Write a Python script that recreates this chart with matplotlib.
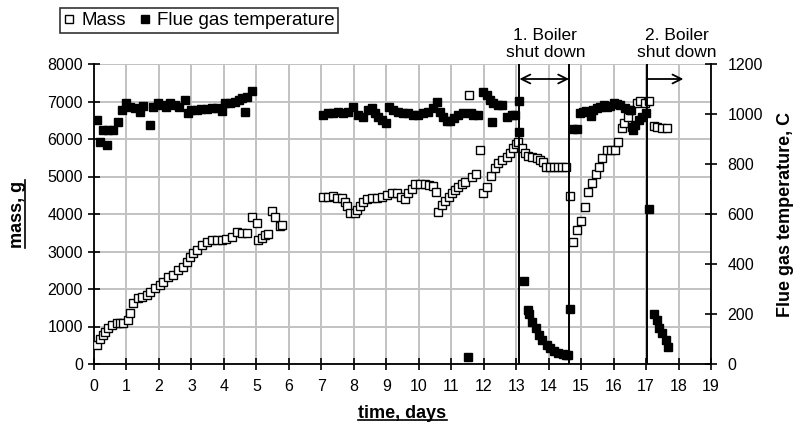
import matplotlib
matplotlib.use("Agg")
import matplotlib.pyplot as plt
from matplotlib.lines import Line2D
from matplotlib.transforms import blended_transform_factory

plt.rcParams['font.family'] = ['Liberation Sans', 'DejaVu Sans']

# Sample mass (g) versus time (days)
mass_day = [0.08, 0.2, 0.27, 0.34, 0.44, 0.54, 0.7, 0.8, 0.9, 1.06, 1.12, 1.21, 1.37, 1.47,
            1.62, 1.72, 1.88, 2.03, 2.13, 2.29, 2.44, 2.6, 2.75, 2.85, 2.96, 3.06, 3.16, 3.32,
            3.47, 3.63, 3.78, 3.93, 4.08, 4.24, 4.4, 4.55, 4.7, 4.86, 5.01, 5.06, 5.16, 5.27,
            5.37, 5.47, 5.57, 5.73, 5.8,
            7.06, 7.21, 7.35, 7.47, 7.63, 7.73, 7.78, 7.88, 8.04, 8.09, 8.19, 8.29, 8.4, 8.55,
            8.7, 8.86, 9.01, 9.17, 9.32, 9.45, 9.58, 9.68, 9.78, 9.89, 10.04, 10.19, 10.33,
            10.45, 10.53, 10.6, 10.71, 10.81, 10.92, 11.02, 11.12, 11.22, 11.32, 11.43, 11.56,
            11.63, 11.76, 11.89, 11.99, 12.09, 12.21, 12.35, 12.45, 12.56, 12.71, 12.81, 12.91,
            13.0, 13.07, 13.17, 13.27, 13.37, 13.5, 13.63, 13.73, 13.83, 13.91, 14.05, 14.15,
            14.28, 14.41, 14.53, 14.66, 14.76, 14.87, 15.0, 15.12, 15.22, 15.34, 15.45, 15.55,
            15.65, 15.79, 15.92, 16.05, 16.15, 16.25, 16.33, 16.45, 16.55, 16.71, 16.82, 16.96,
            17.09, 17.23, 17.35, 17.48, 17.64]
mass_g = [500, 680, 780, 860, 950, 1040, 1090, 1090, 1100, 1170, 1350, 1620, 1750, 1790,
          1840, 1930, 2020, 2100, 2200, 2310, 2370, 2500, 2580, 2730, 2860, 2950, 3040, 3170,
          3260, 3300, 3300, 3310, 3340, 3380, 3530, 3500, 3500, 3930, 3750, 3300, 3350, 3440,
          3480, 4090, 3910, 3680, 3700,
          4460, 4460, 4480, 4440, 4420, 4330, 4210, 4020, 4020, 4100, 4210, 4330, 4390, 4420,
          4420, 4460, 4520, 4550, 4550, 4460, 4390, 4550, 4680, 4800, 4800, 4800, 4770,
          4750, 4600, 4060, 4240, 4350, 4460, 4550, 4640, 4730, 4800, 4860, 7170,
          4990, 5080, 5720, 4550, 4730, 5010, 5240, 5350, 5440, 5510, 5630, 5750,
          5880, 5930, 5750, 5620, 5550, 5530, 5490, 5440, 5400, 5250, 5250, 5250,
          5250, 5250, 5250, 4480, 3260, 3570, 3820, 4200, 4600, 4820, 5070, 5250,
          5490, 5710, 5710, 5710, 5930, 6290, 6440, 6600, 6770, 6950, 7020, 6950,
          7020, 6350, 6320, 6300, 6300]

# Flue gas temperature (C) versus time (days)
temp_day = [0.08, 0.2, 0.29, 0.4, 0.44, 0.6, 0.75, 0.85, 1.0, 1.1, 1.26, 1.42, 1.52, 1.72,
            1.83, 1.98, 2.08, 2.23, 2.34, 2.5, 2.63, 2.8, 2.9, 3.0, 3.16, 3.3, 3.47, 3.63,
            3.78, 3.93, 4.04, 4.2, 4.35, 4.45, 4.55, 4.65, 4.7, 4.86,
            7.06, 7.21, 7.37, 7.52, 7.68, 7.83, 7.99, 8.14, 8.29, 8.45, 8.55, 8.65, 8.76,
            8.86, 8.99, 9.09, 9.22, 9.37, 9.53, 9.68, 9.83, 9.99, 10.14, 10.3, 10.45, 10.55,
            10.65, 10.76, 10.86, 10.96, 11.09, 11.22, 11.37, 11.53, 11.6, 11.68, 11.84, 11.99,
            12.09, 12.2, 12.25, 12.3, 12.45, 12.55, 12.71, 12.86, 12.96, 13.08, 13.08, 13.25,
            13.35, 13.4, 13.5, 13.6, 13.7, 13.8, 13.95, 14.05, 14.15, 14.3, 14.45, 14.55,
            14.6, 14.66, 14.76, 14.87, 14.96, 15.06, 15.16, 15.3, 15.38, 15.5, 15.58, 15.7,
            15.8, 15.9, 16.0, 16.1, 16.2, 16.35, 16.5, 16.56, 16.6, 16.65, 16.77, 16.87,
            16.99, 17.09, 17.23, 17.33, 17.4, 17.5, 17.6, 17.69]
temp_c = [976, 889, 936, 876, 936, 936, 969, 1016, 1043, 1029, 1023, 1009, 1032, 956,
          1029, 1043, 1036, 1029, 1043, 1036, 1027, 1056, 1003, 1016, 1016, 1019, 1019, 1023,
          1023, 1013, 1043, 1043, 1049, 1056, 1063, 1009, 1069, 1093,
          996, 1003, 1003, 1009, 1003, 1009, 1029, 996, 989, 1016, 1023, 1003, 989,
          976, 963, 1029, 1016, 1009, 1005, 1003, 996, 996, 1003, 1009, 1023, 1049,
          1009, 989, 973, 973, 983, 996, 1003, 29, 1003, 996, 996, 1089,
          1076, 1056, 969, 1043, 1036, 1036, 989, 996, 996, 1053, 929, 333,
          216, 200, 169, 143, 116, 96, 76, 63, 53, 45, 40, 35,
          35, 219, 939, 939, 1003, 1009, 1013, 992, 1016, 1025, 1029, 1036,
          1029, 1031, 1043, 1040, 1036, 1023, 1016, 949, 936, 956, 976, 989,
          1003, 619, 199, 176, 143, 123, 96, 69]

# Boiler shut-down events (days) and the end of the second arrow
shutdown_days = [13.1, 14.63, 17.03]
arrow2_end = 18.15
event_labels = ["1. Boiler\nshut down", "2. Boiler\nshut down"]
event_label_x = [13.9, 17.95]

x_ticks = list(range(0, 20))
mass_ticks = list(range(0, 8001, 1000))
temp_ticks = list(range(0, 1201, 200))

fig = plt.figure(figsize=(7.96, 4.29), dpi=100)
ax = fig.add_axes([94 / 796, 1 - 364 / 429, 617 / 796, 300 / 429])
ax2 = ax.twinx()

grid_c = '#c2c2c2'
ax.set_xlim(0, 19)
ax.set_ylim(0, 8000)
ax2.set_ylim(0, 1200)
ax.set_xticks(x_ticks)
ax.set_yticks(mass_ticks)
ax2.set_yticks(temp_ticks)
ax.grid(True, color=grid_c, linewidth=1.4)
ax.set_axisbelow(True)

for a in (ax, ax2):
    a.spines['top'].set_visible(False)
    for s in ('left', 'right', 'bottom'):
        a.spines[s].set_linewidth(1.3)
        a.spines[s].set_color('black')
ax.spines['right'].set_visible(False)
ax2.spines['left'].set_visible(False)
ax2.spines['bottom'].set_visible(False)

ax.tick_params(axis='x', direction='inout', length=8, width=1.2, pad=7, labelsize=11.5)
ax.tick_params(axis='y', direction='inout', length=8, width=1.2, pad=4, labelsize=11.5)
ax2.tick_params(axis='y', direction='inout', length=8, width=1.2, pad=8, labelsize=11.5)

ax.plot(mass_day, mass_g, linestyle='none', marker='s', markersize=6.4,
        markerfacecolor='white', markeredgecolor='black', markeredgewidth=1.0,
        label='Mass', zorder=3)
ax2.plot(temp_day, temp_c, linestyle='none', marker='s', markersize=6.4,
         markerfacecolor='black', markeredgecolor='black', markeredgewidth=1.0,
         label='Flue gas temperature', zorder=3)

# Shut-down markers
for d in shutdown_days:
    ax.axvline(d, color='black', linewidth=1.4, zorder=4)

arrow_y = 7600
ax.annotate('', xy=(shutdown_days[1], arrow_y), xytext=(shutdown_days[0], arrow_y),
            arrowprops=dict(arrowstyle='<->', color='black', lw=1.3,
                            mutation_scale=16, shrinkA=0, shrinkB=0), zorder=5)
ax.annotate('', xy=(arrow2_end, arrow_y), xytext=(shutdown_days[2], arrow_y),
            arrowprops=dict(arrowstyle='->', color='black', lw=1.3,
                            mutation_scale=16, shrinkA=0, shrinkB=0), zorder=5)

trans = blended_transform_factory(ax.transData, ax.transAxes)
for lx, lab in zip(event_label_x, event_labels):
    ax.text(lx, 1.012, lab, transform=trans, ha='center', va='bottom',
            fontsize=12.5, linespacing=1.2, multialignment='center')

# Axis titles
xl = ax.set_xlabel('time, days', fontsize=13, fontweight='bold')
ax.xaxis.set_label_coords(0.5, -49 / 300)
ax.xaxis.label.set_verticalalignment('center')
yl = ax.set_ylabel('mass, g', fontsize=13, fontweight='bold')
ax.yaxis.set_label_coords(-76 / 617, 0.5)
ax.yaxis.label.set_verticalalignment('center')
yl2 = ax2.set_ylabel('Flue gas temperature, C', fontsize=13, fontweight='bold')
ax2.yaxis.set_label_coords(691 / 617, 0.5)
ax2.yaxis.label.set_verticalalignment('center')

leg = fig.legend(handles=[ax.lines[0], ax2.lines[0]], loc='center',
                 bbox_to_anchor=(199 / 796, 1 - 20.5 / 429), ncol=2, fontsize=13.5,
                 frameon=True, fancybox=False, handlelength=0.6, handletextpad=0.35,
                 columnspacing=0.7, borderpad=0.2, borderaxespad=0)
leg.get_frame().set_edgecolor('black')
leg.get_frame().set_linewidth(1.2)

# Underline the time and mass titles
fig.canvas.draw()
inv = fig.transFigure.inverted()
bb = xl.get_window_extent()
(x0, y0), (x1, y1) = inv.transform([(bb.x0, bb.y0 + 2), (bb.x1, bb.y0 + 2)])
fig.add_artist(Line2D([x0, x1], [y0, y1], color='black', linewidth=1.2,
                      transform=fig.transFigure))
bb = yl.get_window_extent()
(x0, y0), (x1, y1) = inv.transform([(bb.x1 - 2, bb.y0), (bb.x1 - 2, bb.y1)])
fig.add_artist(Line2D([x0, x1], [y0, y1], color='black', linewidth=1.2,
                      transform=fig.transFigure))

fig.savefig('out.png', dpi=100, facecolor='white')
